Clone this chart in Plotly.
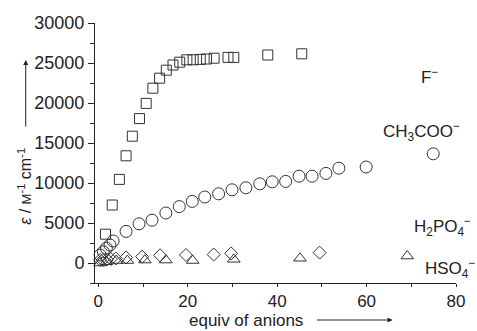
import plotly.graph_objects as go

# ---- data ----
f_x = [1.6, 3.1, 4.7, 6.2, 7.6, 9.2, 10.7, 12.2, 13.7, 15.2, 16.7, 18.2, 19.8, 21.2, 22.8, 24.2, 25.9, 29.0, 30.3, 37.9, 45.5]
f_y = [3600, 7250, 10450, 13400, 15850, 18050, 19950, 21850, 23100, 24100, 24750, 25100, 25400, 25400, 25450, 25500, 25600, 25700, 25700, 26000, 26150]

ac_x = [0.4, 1.1, 1.8, 2.6, 3.3, 6.2, 9.1, 12.0, 15.1, 18.1, 21.0, 23.8, 26.9, 29.9, 33.0, 36.1, 38.9, 41.9, 44.9, 47.8, 50.9, 53.8, 59.9, 74.9]
ac_y = [1000, 1400, 1850, 2250, 2750, 3950, 4900, 5350, 6250, 7050, 7700, 8250, 8650, 9150, 9400, 9900, 10150, 10200, 10850, 10850, 11200, 11850, 12000, 13650]

hp_x = [0.4, 1.0, 1.9, 2.8, 3.9, 6.2, 9.8, 13.8, 19.6, 25.8, 29.7, 49.5]
hp_y = [380, 380, 440, 500, 560, 690, 790, 960, 1000, 1060, 1200, 1300]

hs_x = [0.4, 1.8, 4.0, 6.5, 10.4, 15.1, 21.1, 30.3, 45.1, 69.1]
hs_y = [0, 160, 310, 310, 370, 370, 310, 460, 590, 870]

x_ticks = [0, 20, 40, 60, 80]
y_ticks = [0, 5000, 10000, 15000, 20000, 25000, 30000]

FONT = "Liberation Sans, Arial, sans-serif"
MC = "#333333"

fig = go.Figure()

def add(x, y, sym, size):
    fig.add_trace(go.Scatter(
        x=x, y=y, mode="markers",
        marker=dict(symbol=sym, size=size, color=MC,
                    line=dict(color=MC, width=1)),
        showlegend=False, cliponaxis=False))

add(hs_x, hs_y, "triangle-up-open", 11)
add(hp_x, hp_y, "diamond-open", 10)
add(ac_x, ac_y, "circle-open", 12)
add(f_x, f_y, "square-open", 10)

fig.update_layout(
    width=477, height=331,
    margin=dict(l=95, r=12, t=23, b=48),
    paper_bgcolor="white", plot_bgcolor="white",
    font=dict(family=FONT, size=18, color="#222"),
    xaxis=dict(range=[-0.75, 80], tickvals=x_ticks, ticktext=[str(v) for v in x_ticks],
               showgrid=False, zeroline=False,
               showline=True, linecolor="#222", linewidth=1,
               ticks="outside", ticklen=3, tickcolor="#222",
               minor=dict(tickvals=[10, 30, 50, 70], ticks="outside", ticklen=3, tickcolor="#222"),
               tickfont=dict(size=17)),
    yaxis=dict(range=[-2500, 30000], tickvals=y_ticks, ticktext=[str(v) for v in y_ticks],
               showgrid=False, zeroline=False,
               showline=True, linecolor="#222", linewidth=1,
               ticks="outside", ticklen=6, tickcolor="#222",
               minor=dict(tickvals=[-2500, 2500, 7500, 12500, 17500, 22500, 27500], ticks="outside", ticklen=4, tickcolor="#222"),
               tickfont=dict(size=18)),
)

def px2paper(px, py):
    return (px - 95) / 370.0, (283 - py) / 260.0

ann = []
def text(px, py, s, size=17, angle=0):
    x, y = px2paper(px, py)
    ann.append(dict(x=x, y=y, xref="paper", yref="paper", text=s, showarrow=False,
                    textangle=angle, font=dict(size=size, family=FONT, color="#222"),
                    xanchor="center", yanchor="middle"))

text(438, 76, "F<sup>−</sup>")
text(430, 131, "CH<sub>3</sub>COO<sup>−</sup>")
text(451, 226, "H<sub>2</sub>PO<sub>4</sub><sup>−</sup>")
text(459, 268, "HSO<sub>4</sub><sup>−</sup>")
text(250, 320, "equiv of anions", size=17)
text(23, 186, "<i>ε</i> / <span style='font-size:13px'>M</span><sup>-1</sup> cm<sup>-1</sup>", size=16, angle=-90)

# arrows
ax_, ay_ = px2paper(400, 320)
ann.append(dict(x=ax_, y=ay_, xref="paper", yref="paper", ax=-77, ay=0, showarrow=True,
                arrowhead=2, arrowsize=1, arrowwidth=1, arrowcolor="#222", text=""))
ax_, ay_ = px2paper(24, 60)
ann.append(dict(x=ax_, y=ay_, xref="paper", yref="paper", ax=0, ay=68, showarrow=True,
                arrowhead=2, arrowsize=1, arrowwidth=1, arrowcolor="#222", text=""))

fig.update_layout(annotations=ann)
fig.write_html("out.html")
